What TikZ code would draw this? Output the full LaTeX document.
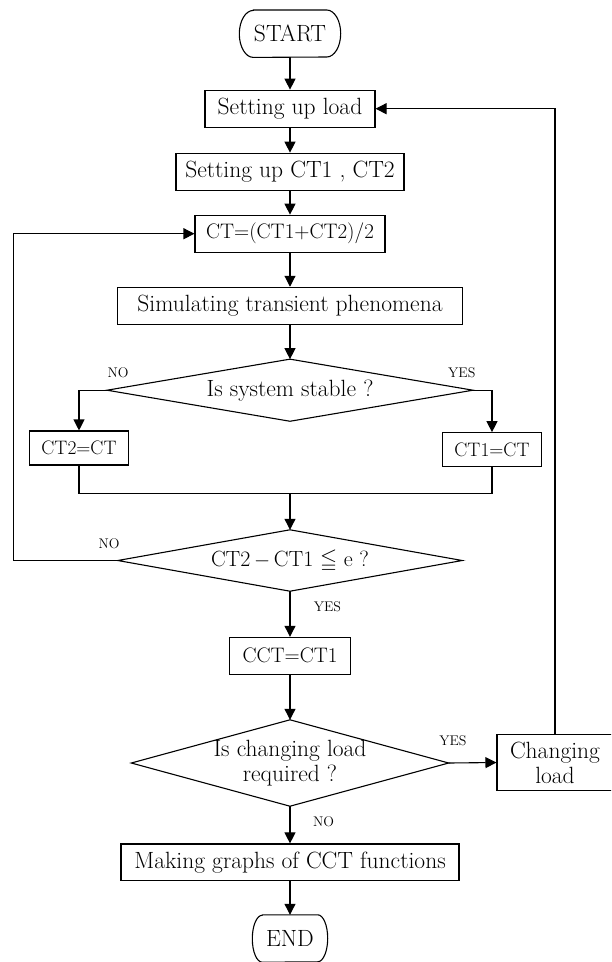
\documentclass[tikz,border=0pt]{standalone}
\usepackage{amssymb}
\usetikzlibrary{arrows.meta}
\newcommand{\drawterm}[2]{%
  \draw[line width=1.1pt] ([xshift=#2pt]#1.north west) -- ([xshift=-#2pt]#1.north east)
    arc[start angle=90,end angle=-90,x radius=#2pt,y radius=23.5pt]
    -- ([xshift=#2pt]#1.south west)
    arc[start angle=270,end angle=90,x radius=#2pt,y radius=23.5pt] -- cycle;}
\newcommand{\drawdia}[1]{%
  \draw[line width=1.1pt] (#1.north) -- (#1.east) -- (#1.south) -- (#1.west) -- cycle;}
\begin{document}
\begin{tikzpicture}[x=1pt,y=1pt,
  mainfont/.style={font=\fontsize{23.5}{25}\selectfont},
  eqfont/.style={font=\fontsize{21}{25}\selectfont},
  box/.style={draw,line width=1.1pt,inner sep=0pt,mainfont,align=center},
  smallbox/.style={draw,line width=1.1pt,inner sep=0pt,font=\fontsize{19.5}{20}\selectfont},
  term/.style={inner sep=0pt,mainfont},
  dia/.style={inner sep=0pt,mainfont,align=center},
  lbl/.style={inner sep=0pt,font=\fontsize{14}{16}\selectfont},
  arr/.style={-{Triangle[length=11pt,width=11pt]},line width=1.1pt},
  ln/.style={line width=1.1pt}]
\useasboundingbox (0,0) rectangle (611,-962);
\clip (0,0) rectangle (611,-962);

\node[term,minimum width=101pt,minimum height=47pt] (start) at (290,-33.7) {START};
\drawterm{start}{14}
\node[box,minimum width=170pt,minimum height=37pt] (load) at (290,-108.7) {Setting up load};
\node[box,minimum width=228pt,minimum height=37pt] (ct12) at (290,-171.7) {Setting up CT1 , CT2};
\node[box,eqfont,minimum width=190pt,minimum height=37pt] (ct) at (290,-233.7) {CT=(CT1+CT2)/2};
\node[box,minimum width=344.5pt,minimum height=37.4pt] (sim) at (290,-306) {Simulating transient phenomena};
\node[dia,minimum width=365.5pt,minimum height=61.7pt] (d1) at (290,-390.2) {Is system stable ?};
\drawdia{d1}
\node[smallbox,minimum width=99.4pt,minimum height=34pt] (ct2ct) at (79,-448) {CT2=CT};
\node[smallbox,minimum width=99.4pt,minimum height=34pt] (ct1ct) at (492,-449.7) {CT1=CT};
\coordinate (m) at (290,-493.3);
\node[dia,font=\fontsize{22}{25}\selectfont,minimum width=344pt,minimum height=61pt] (d2) at (290,-560.5) {CT2\,$-$\,CT1 $\leqq$ e ?};
\drawdia{d2}
\node[box,eqfont,minimum width=120.5pt,minimum height=36.7pt] (cct) at (290,-655.7) {CCT=CT1};
\node[dia,minimum width=317pt,minimum height=86pt] (d3) at (290,-763) {Is changing load\\required ?};
\drawdia{d3}
\node[box,minimum width=116pt,minimum height=56.4pt] (chg) at (555,-762.5) {Changing\\load};
\node[box,minimum width=338pt,minimum height=36.7pt] (mk) at (290,-862.3) {Making graphs of CCT functions};
\node[term,minimum width=75pt,minimum height=47pt] (end) at (290,-938.5) {END};
\drawterm{end}{10}
\coordinate (lp) at (13.6,-233.7);

\draw[arr] (start.south) -- (load.north);
\draw[arr] (load.south) -- (ct12.north);
\draw[arr] (ct12.south) -- (ct.north);
\draw[arr] (ct.south) -- (sim.north);
\draw[arr] (sim.south) -- (d1.north);
\draw[arr] (d1.west) -| (ct2ct.north);
\draw[arr] (d1.east) -| (ct1ct.north);
\draw[ln] (ct2ct.south) |- (m) -| (ct1ct.south);
\draw[arr] (m) -- (d2.north);
\draw[arr] (d2.west) -| (lp) -- (ct.west);
\draw[arr] (d2.south) -- (cct.north);
\draw[arr] (cct.south) -- (d3.north);
\draw[arr] (d3.east) -- (chg.west);
\draw[arr] (chg.north) |- (load.east);
\draw[arr] (d3.south) -- (mk.north);
\draw[arr] (mk.south) -- (end.north);

\node[lbl] (l1) at (118,-372.7) {NO};
\node[lbl] (l2) at (461.8,-372.7) {YES};
\node[lbl] (l3) at (109,-543.3) {NO};
\node[lbl] (l4) at (327.4,-606.7) {YES};
\node[lbl] (l5) at (453,-740.7) {YES};
\node[lbl] (l6) at (323.5,-821.7) {NO};
\end{tikzpicture}
\end{document}
